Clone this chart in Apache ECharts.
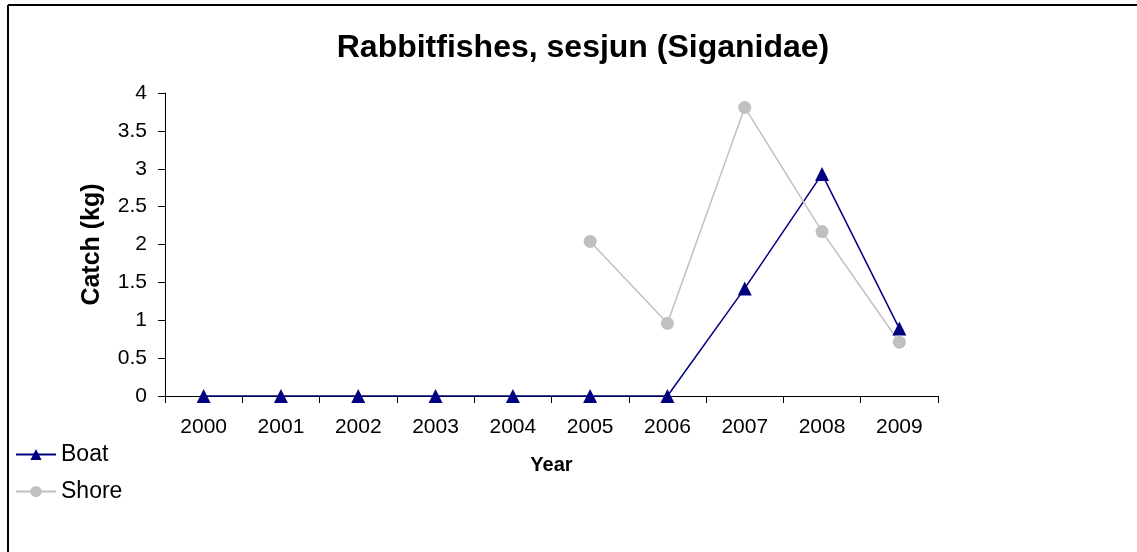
<!DOCTYPE html>
<html>
<head>
<meta charset="utf-8">
<script src="https://cdn.jsdelivr.net/npm/echarts@6/dist/echarts.min.js"></script>
<style>
html,body{margin:0;padding:0;background:#fff;}
#chart{width:1137px;height:552px;}
</style>
</head>
<body>
<div id="chart"></div>
<script>
const titleText = "Rabbitfishes, sesjun (Siganidae)";
const years = ["2000","2001","2002","2003","2004","2005","2006","2007","2008","2009"];
const boat = [0, 0, 0, 0, 0, 0, 0, 1.42, 2.93, 0.89];
const shore = [null, null, null, null, null, 2.04, 0.96, 3.81, 2.17, 0.71];
const yTicks = [0, 0.5, 1, 1.5, 2, 2.5, 3, 3.5, 4];

const FONT = "'Liberation Sans', Arial, sans-serif";
const chart = echarts.init(document.getElementById('chart'), null, {renderer: 'canvas'});
chart.setOption({
  backgroundColor: '#ffffff',
  animation: false,
  title: {
    text: titleText,
    left: 578, top: 27, textAlign: 'center',
    textStyle: {fontFamily: FONT, fontSize: 32, fontWeight: 'bold', color: '#000'}
  },
  graphic: [
    {type: 'line', shape: {x1: 8, y1: 5, x2: 1137, y2: 5}, style: {stroke: '#000', lineWidth: 2}},
    {type: 'line', shape: {x1: 8, y1: 5, x2: 8, y2: 552}, style: {stroke: '#000', lineWidth: 2}}
  ],
  legend: {
    orient: 'vertical', left: 10, top: 438,
    itemWidth: 40, itemHeight: 14, itemGap: 14,
    textStyle: {fontFamily: FONT, fontSize: 23, color: '#000'},
    data: ['Boat', 'Shore']
  },
  grid: {left: 165, right: 199, top: 93, bottom: 156, containLabel: false},
  xAxis: {
    type: 'category', data: years, boundaryGap: true,
    name: 'Year', nameLocation: 'middle', nameGap: 59,
    nameTextStyle: {fontFamily: FONT, fontSize: 20, fontWeight: 'bold', color: '#000'},
    axisLine: {lineStyle: {color: '#000', width: 1}},
    axisTick: {show: true, length: 7, inside: false, lineStyle: {color: '#000'}},
    axisLabel: {fontFamily: FONT, fontSize: 21, color: '#000', margin: 21}
  },
  yAxis: {
    type: 'value', min: 0, max: 4, interval: 0.5,
    name: 'Catch (kg)', nameLocation: 'middle', nameGap: 60, nameRotate: 90,
    nameTextStyle: {fontFamily: FONT, fontSize: 25, fontWeight: 'bold', color: '#000'},
    axisLine: {show: true, lineStyle: {color: '#000', width: 1}},
    axisTick: {show: true, length: 7, lineStyle: {color: '#000'}},
    splitLine: {show: false},
    axisLabel: {fontFamily: FONT, fontSize: 21, color: '#000', margin: 18,
      formatter: v => yTicks.includes(v) ? String(v) : ''}
  },
  series: [
    {
      name: 'Boat', type: 'line', data: boat,
      symbol: 'triangle', symbolSize: 14, showAllSymbol: true,
      itemStyle: {color: '#000080'},
      lineStyle: {color: '#000080', width: 1.5}
    },
    {
      name: 'Shore', type: 'line', data: shore,
      symbol: 'circle', symbolSize: 13, showAllSymbol: true,
      itemStyle: {color: '#C0C0C0'},
      lineStyle: {color: '#C0C0C0', width: 1.5}
    }
  ]
});
</script>
</body>
</html>
